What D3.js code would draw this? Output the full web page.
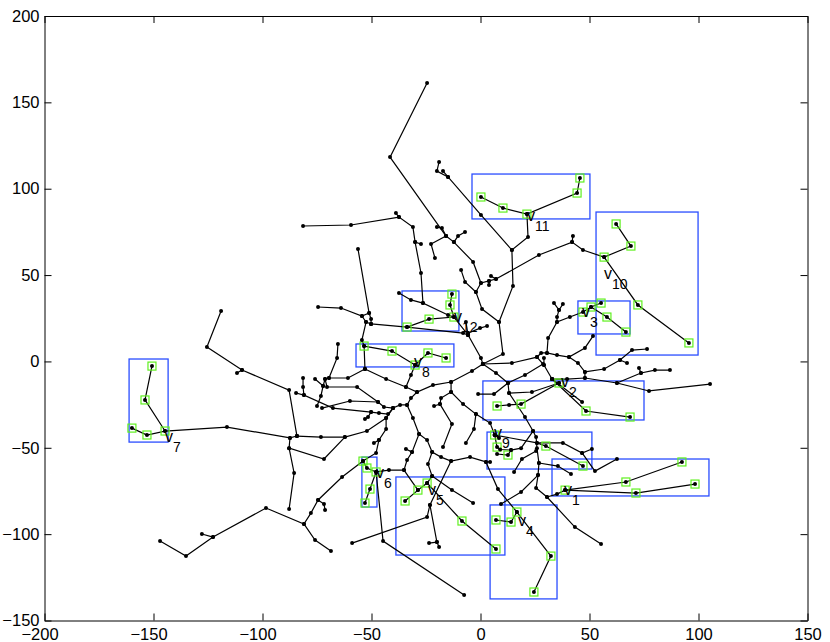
<!DOCTYPE html>
<html>
<head>
<meta charset="utf-8">
<script src="https://d3js.org/d3.v7.min.js"></script>
<style>
	html, body { margin: 0; padding: 0; background: #fff; overflow: hidden; }
	svg { display: block; }
	text { font-family: "Liberation Sans", Arial, sans-serif; fill: #000; }
	.domain { stroke: #000; }
</style>
</head>
<body>
<div id="chart"></div>
<script>
// tree branches, each one a polyline of [x, y] nodes
var branches = [
	[[-24.5,161.2],[-41.5,118.3],[-15.8,72.6]],
	[[-20,77.8],[-17.7,77.2],[-15.8,72.6]],
	[[-20.9,59.9],[-22.7,68],[-15.8,72.6],[-12.2,69.1],[-3.4,57.6],[0.2,45.4],[-2.1,40.2],[0.7,30.3],[8.5,22.8],[14.9,43.7],[14.4,64.5]],
	[[-12.2,69.1],[-10.3,72.6],[-7.1,74.9]],
	[[-8.9,52.9],[-7.1,46],[-2.1,40.2]],
	[[0.2,45.4],[3.9,46.6],[7.1,47.7],[26.8,61.6],[42,69.1],[47,64.5],[56.7,60.4],[69,66.8],[62.2,79.6]],
	[[4.8,49.4],[7.1,47.7]],
	[[3.9,44.2],[3.9,46.6]],
	[[42,69.1],[42.4,72.6]],
	[[56.7,60.4],[72.2,32.7],[95.6,10.7]],
	[[-19,115.5],[-20,110.2],[-14.9,106.8],[0.2,84.8],[14.4,64.5],[21.8,72],[21.3,85.3]],
	[[-17.2,110.2],[-14.9,106.8]],
	[[0.2,95.2],[10.3,88.8],[21.3,85.3],[44.3,97.5],[45.6,106.2]],
	[[-81.4,78.4],[-59.4,79],[-37.4,83.6],[-31,77.8],[-30,69.1],[-27.3,51.2],[-26.4,33.8],[-14.9,26.9],[-12.2,25.7],[-5.7,15.3]],
	[[-38.8,85.9],[-37.4,83.6]],
	[[-30,69.1],[-27.3,68]],
	[[-37.4,39.6],[-31.9,35.6],[-26.4,33.8]],
	[[-13.1,39],[-14,32.7],[-12.2,25.7],[-23.6,24.5],[-33.7,19.9],[-50.2,21.7]],
	[[-33.7,19.9],[-8,16.4],[-5.7,15.3]],
	[[-56.2,65.1],[-51.1,28],[-50.2,24.5],[-50.2,21.7]],
	[[-74.5,31.5],[-64,30.9],[-54.4,26.3],[-51.1,28]],
	[[-54.4,26.3],[-52.5,22.8],[-50.2,21.7]],
	[[-52.5,22.8],[-54.4,12.4],[-53.4,8.9],[-53,-4.4]],
	[[-119,29.2],[-125.5,8.3],[-109.4,-5],[-87.8,-16.6],[-84.2,-43.2]],
	[[-111.7,-6.7],[-109.4,-5]],
	[[-150.7,-2.7],[-153.9,-22.3],[-144.7,-40.3],[-153,-42.6],[-159.9,-38.6]],
	[[-144.7,-40.3],[-116.3,-38],[-87.4,-44.3],[-84.2,-43.2]],
	[[-84.2,-43.2],[-73.2,-43.8],[-62.2,-43.8],[-52.1,-40.3],[-43.3,-32.8],[-40.1,-27],[-36.9,-25.2],[-33.7,-25.2]],
	[[-87.4,-44.3],[-87.8,-50.2],[-71.8,-56.5],[-62.2,-43.8]],
	[[-87.8,-50.2],[-85.5,-64.6],[-87.8,-85.5]],
	[[-43.3,-32.8],[-43.3,-39.1],[-46.6,-45.5],[-48.9,-47.2]],
	[[-46.6,-45.5],[-47.9,-53],[-53.9,-57.7],[-63.5,-66.9],[-74.5,-80.2],[-77.8,-87.8],[-81,-94.1],[-98.4,-84.9],[-122.7,-101.7],[-135.1,-112.7],[-147,-104]],
	[[-122.7,-101.7],[-127.8,-99.9]],
	[[-81,-94.1],[-75.9,-103.4],[-68.6,-109.8]],
	[[-74.5,-80.2],[-71.8,-82.6],[-71.3,-86]],
	[[-53.9,-57.7],[-52.1,-61.7],[-47.9,-64],[-50.7,-73.9],[-53,-82]],
	[[-47.9,-64],[-42,-62.9],[-35.1,-62.9],[-33.7,-57.1],[-31.4,-52.5],[-34.2,-50.7]],
	[[-31.4,-52.5],[-28.2,-42],[-31,-32.8],[-33.7,-25.2],[-31.9,-21.2],[-29.1,-17.7]],
	[[-35.1,-62.9],[-28.7,-74.5]],
	[[-47.9,-64],[-44.7,-104],[-7.5,-135.2]],
	[[-58.9,-105.2],[-24.5,-90.1],[-23.2,-83.1],[-13.5,-57.7]],
	[[-53.4,8.9],[-40.6,6],[-30,-2.1],[-24.1,4.9],[-15.8,2]],
	[[-53,-4.4],[-43.3,-10.2],[-34.2,-14.8],[-29.1,-17.7],[-21.8,-13.7],[-13.5,-11.9],[-3.9,-5.6],[1.1,-1.5]],
	[[-30,-2.1],[-31.9,-7.9],[-34.2,-14.8]],
	[[-28.2,-42],[-24.5,-45.5],[-22.2,-52.5],[-18.1,-55.4],[-13.5,-57.7],[-4.8,-55.4],[2.5,-58.2],[4.4,-58.2]],
	[[2.5,-58.2],[8,-73.9],[16.7,-87.2],[32.3,-112.7],[24.5,-133.5]],
	[[16.7,-87.2],[14,-93],[7.1,-91.8]],
	[[-22.2,-52.5],[-24.1,-59.4],[-22.2,-66.4],[-24.5,-70.4],[-28.7,-74.5],[-34.6,-80.8]],
	[[-22.2,-66.4],[-13.1,-74.5],[-3.4,-82]],
	[[-24.5,-70.4],[-8.5,-92.4],[7.1,-108.6]],
	[[-23.2,-83.1],[-20,-104.6],[-19,-107.5]],
	[[-20,-104.6],[-23.6,-105.2]],
	[[1.1,-1.5],[14.4,-0.9],[25.9,2.5],[27.8,4.9],[30.5,4.9],[35.1,3.7],[40.6,2.5],[47.9,7.8],[51.6,14.7]],
	[[30.5,4.9],[31,13.5],[35.1,22.8],[41,25.7],[47,28.6],[50.7,31.5],[55.3,33.8]],
	[[35.1,22.8],[35.1,25.7],[36,29.8],[33.7,33.8]],
	[[36,29.8],[37.8,33.2]],
	[[50.7,31.5],[58,25.7],[66.7,17]],
	[[1.1,-1.5],[0.2,2],[-5.7,15.3]],
	[[1.1,-1.5],[10.3,4.3],[8.5,22.8]],
	[[1.1,-1.5],[7.1,-6.7],[12.6,-12.5],[13.1,-18.3],[20.4,-32.2],[24.1,-40.3],[25.5,-43.8],[25.9,-50.2],[26.8,-58.8],[26.4,-65.8],[25.5,-73.3],[30.5,-78.5],[43.3,-95.9],[55.3,-105.7]],
	[[26.4,-65.8],[18.6,-75.6],[9.4,-82.6]],
	[[26.8,-58.8],[35.5,-60.6],[41.5,-65.2]],
	[[30.5,-78.5],[35.1,-76.8],[38.8,-74.5],[66.7,-69.8],[92.4,-58.2]],
	[[38.8,-74.5],[71.3,-76.2],[98.4,-71]],
	[[24.1,-40.3],[18.6,-50.2],[14,-51.3],[9,-51],[7.6,-49.6],[6.5,-42.6]],
	[[14,-51.3],[12.6,-54.2],[7.6,-53.6]],
	[[-13.5,-11.9],[-13.5,-17.7],[-8,-24.7],[-2.1,-30.5],[4.4,-35.7],[6.5,-42.6],[25.9,-47.2],[30,-49],[47,-60.6]],
	[[6.5,-42.6],[8.5,-44.3]],
	[[-2.1,-30.5],[-3,-39.1],[-6.7,-47.2]],
	[[-13.5,-17.7],[-18.1,-21.2],[-18.6,-24.7],[-21.3,-25.8]],
	[[-18.6,-24.7],[-13.1,-36.2],[-17.2,-49.6]],
	[[25.9,-47.2],[37.8,-47.2],[46.6,-53],[51.1,-50.7]],
	[[46.6,-53],[52.5,-63.5],[62.6,-56.5]],
	[[25.5,-51.9],[19,-56.5],[15.4,-64]],
	[[12.6,-12.5],[20.4,-7.9],[28.7,-1.5]],
	[[25.9,2.5],[29.1,-2.1],[32.8,-10.2]],
	[[29.1,2],[29.1,-2.1]],
	[[12.6,-12.5],[6.2,-18.9],[-1.1,-18.9]],
	[[13.1,-18.3],[23.6,-17.7],[36,-12.5]],
	[[7.6,-25.8],[13.1,-25.2],[18.6,-24.7],[36,-12.5]],
	[[32.8,-10.2],[48.4,-28.7],[68.6,-32.2]],
	[[32.8,-10.2],[46.6,-23.5]],
	[[32.8,-10.2],[39.7,-10.2],[47.9,-9.6],[62.6,-12.5],[77.3,-17.1],[105.3,-13.1]],
	[[47.9,-9.6],[47.9,-6.1],[44.7,-0.9],[40.6,2.5]],
	[[47.9,-6.1],[56.7,-4.4],[64,0.8],[69.5,6.6],[76.4,7.2]],
	[[64,0.8],[67.2,-0.9]],
	[[62.6,-12.5],[73.6,-6.7],[80,-5],[86.9,-5]],
	[[73.6,-6.7],[72.7,-3.8]],
	[[-6.7,22.8],[-5.7,15.3]],
	[[-5.7,16.4],[-0.2,19.3],[3,20.5]],
	[[-65.4,10.1],[-65.8,2],[-69.5,-9.6],[-71.3,-10.2],[-72.2,-14.2],[-75.9,-10.2]],
	[[-69.5,-9.6],[-60.8,-9.6],[-53,-4.4]],
	[[-72.2,-14.2],[-73.2,-20],[-75,-25.8]],
	[[-71.3,-10.2],[-70.4,-14.8],[-56.6,-14.8],[-47,-23.5],[-44.3,-26.4],[-40.1,-27]],
	[[-81.4,-9.6],[-81.4,-14.8],[-81,-19.5],[-67.7,-27],[-50.2,-29.3],[-46.6,-29.9],[-42.4,-30.5],[-40.1,-27]],
	[[-84.6,-18.3],[-81,-19.5]],
	[[-72.7,-27],[-59.9,-22.9],[-47,-23.5]],
	[[-50.2,-29.3],[-51.6,-32.2],[-53,-33.4]]
];

// cluster names in order, used by the next arrays
var clusterNames = ["1", "2", "3", "4", "5", "6", "7", "8", "9", "10", "11", "12"];

// [xmin, xmax, ymin, ymax] of each cluster
var clusterBoxes = [
	[32.8,104.8,-77.9,-56.5],
	[1.1,75,-33.9,-11.3],
	[44.7,68.6,15.9,35],
	[4.4,35.1,-137.5,-83.1],
	[-38.8,11.2,-112.1,-66.9],
	[-54.4,-47.5,-84.3,-55.4],
	[-161.2,-143.3,-46.7,1.4],
	[-57.1,-12.2,-3.2,10.1],
	[3,51.1,-62.3,-40.9],
	[53,99.8,3.7,86.5],
	[-3.9,50.2,82.5,108.5],
	[-36,-9.9,17.6,40.8]
];

// where the v label of each cluster sits
var clusterLabels = [
	[40.1,-75],[38.8,-12.5],[48.4,28],[19,-93],[-22.2,-75],[-46.1,-65.2],
	[-142.9,-44.3],[-28.7,-0.9],[8,-42],[58.5,50],[23.2,83.6],[-10.3,25.1]
];

// selected nodes, five per cluster
var clusterPoints = [
	[[38.8,-74.5],[66.7,-69.8],[71.3,-76.2],[92.4,-58.2],[98.4,-71]],
	[[7.6,-25.8],[18.6,-24.7],[36,-12.5],[48.4,-28.7],[68.6,-32.2]],
	[[47,28.6],[50.7,31.5],[55.3,33.8],[58,25.7],[66.7,17]],
	[[7.1,-91.8],[14,-93],[16.7,-87.2],[32.3,-112.7],[24.5,-133.5]],
	[[-34.6,-80.8],[-28.7,-74.5],[-24.5,-70.4],[-8.5,-92.4],[7.1,-108.6]],
	[[-53.9,-57.7],[-52.1,-61.7],[-47.9,-64],[-50.7,-73.9],[-53,-82]],
	[[-150.7,-2.7],[-153.9,-22.3],[-144.7,-40.3],[-153,-42.6],[-159.9,-38.6]],
	[[-53.4,8.9],[-40.6,6],[-30,-2.1],[-24.1,4.9],[-15.8,2]],
	[[6.5,-42.6],[7.6,-49.6],[12.6,-54.2],[30,-49],[47,-60.6]],
	[[62.2,79.6],[69,66.8],[56.7,60.4],[72.2,32.7],[95.6,10.7]],
	[[0.2,95.2],[10.3,88.8],[21.3,85.3],[44.3,97.5],[45.6,106.2]],
	[[-33.7,19.9],[-23.6,24.5],[-12.2,25.7],[-14,32.7],[-13.1,39]]
];

var xTicks = [-200, -150, -100, -50, 0, 50, 100, 150];
var yTicks = [-150, -100, -50, 0, 50, 100, 150, 200];

var svgWidth = 830;
var svgHeight = 642;

var margin = {
	top: 16,
	right: 22.5,
	bottom: 21.5,
	left: 44.5
};

var width = svgWidth - margin.left - margin.right;
var height = svgHeight - margin.top - margin.bottom;

var svg = d3.select("#chart")
	.append("svg")
	.attr("width", svgWidth)
	.attr("height", svgHeight);

var chartGroup = svg.append("g")
	.attr("transform", `translate(${margin.left}, ${margin.top})`);

var xScale = d3.scaleLinear().domain([-200, 150]).range([0, width]);
var yScale = d3.scaleLinear().domain([-150, 200]).range([height, 0]);

// axes, ticks point inwards on all four sides
var bottomAxis = chartGroup.append("g")
	.attr("transform", `translate(0, ${height})`)
	.call(d3.axisBottom(xScale).tickValues(xTicks).tickSizeInner(-7).tickSizeOuter(0).tickPadding(8));

// digits sit centred on the tick, the minus sign hangs out to the left
bottomAxis.selectAll(".tick text")
	.attr("x", d => d < 0 ? -5 : 0);

chartGroup.append("g")
	.call(d3.axisTop(xScale).tickValues(xTicks).tickSizeInner(-7).tickSizeOuter(0).tickFormat(""));

chartGroup.append("g")
	.call(d3.axisLeft(yScale).tickValues(yTicks).tickSizeInner(-7).tickSizeOuter(0).tickPadding(5));

chartGroup.append("g")
	.attr("transform", `translate(${width}, 0)`)
	.call(d3.axisRight(yScale).tickValues(yTicks).tickSizeInner(-7).tickSizeOuter(0).tickFormat(""));

chartGroup.selectAll(".tick text")
	.style("font-family", '"Liberation Sans", Arial, sans-serif')
	.style("font-size", "16.5px");

// blue boxes go under the tree
chartGroup.selectAll("rect.box")
	.data(clusterBoxes)
	.enter()
	.append("rect")
	.classed("box", true)
	.attr("x", d => xScale(d[0]))
	.attr("y", d => yScale(d[3]))
	.attr("width", d => xScale(d[1]) - xScale(d[0]))
	.attr("height", d => yScale(d[2]) - yScale(d[3]))
	.attr("fill", "none")
	.attr("stroke", "#2a4dff")
	.attr("stroke-width", 1.3);

var line = d3.line()
	.x(d => xScale(d[0]))
	.y(d => yScale(d[1]));

chartGroup.selectAll("path.branch")
	.data(branches)
	.enter()
	.append("path")
	.classed("branch", true)
	.attr("d", line)
	.attr("fill", "none")
	.attr("stroke", "#000")
	.attr("stroke-width", 1.2);

// green squares round the selected nodes
chartGroup.selectAll("rect.pick")
	.data(clusterPoints.flat())
	.enter()
	.append("rect")
	.classed("pick", true)
	.attr("x", d => xScale(d[0]) - 4)
	.attr("y", d => yScale(d[1]) - 4)
	.attr("width", 8)
	.attr("height", 8)
	.attr("fill", "none")
	.attr("stroke", "#60f020")
	.attr("stroke-width", 1.2);

chartGroup.selectAll("circle")
	.data(branches.flat())
	.enter()
	.append("circle")
	.attr("cx", d => xScale(d[0]))
	.attr("cy", d => yScale(d[1]))
	.attr("r", 2)
	.attr("fill", "#000");

// v labels with the cluster number as a subscript
chartGroup.selectAll("text.vlabel")
	.data(clusterLabels)
	.enter()
	.append("text")
	.classed("vlabel", true)
	.attr("x", d => xScale(d[0]))
	.attr("y", d => yScale(d[1]) + 4)
	.attr("text-anchor", "middle")
	.attr("font-size", 16)
	.text("v");

chartGroup.selectAll("text.vnum")
	.data(clusterLabels)
	.enter()
	.append("text")
	.classed("vnum", true)
	.attr("x", d => xScale(d[0]) + 4)
	.attr("y", d => yScale(d[1]) + 14)
	.attr("font-size", 14)
	.text((d, i) => clusterNames[i]);
</script>
</body>
</html>
